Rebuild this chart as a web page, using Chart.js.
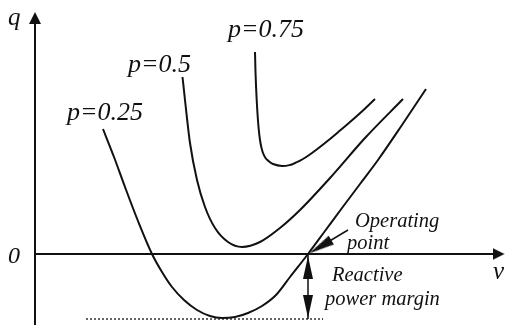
<!DOCTYPE html>
<html>
<head>
<meta charset="utf-8">
<title>q-v curves</title>
<script src="https://cdn.jsdelivr.net/npm/chart.js@4.4.1/dist/chart.umd.min.js"></script>
<style>
    html, body { margin: 0; padding: 0; background: #fff; }
    #wrap { width: 505px; height: 325px; position: relative; }
</style>
</head>
<body>
<div id="wrap"><canvas id="qvChart"></canvas></div>
<script>
// q-v curves, one per active power level (v on x, q on y)
const vP025 = [0.68, 0.79, 0.90, 1.03, 1.17, 1.27, 1.37, 1.49, 1.62, 1.75, 1.87, 2.00,
               2.13, 2.27, 2.41, 2.55, 2.73, 2.90, 3.07, 3.25, 3.43, 3.67, 3.91];
const qP025 = [1.25, 0.97, 0.67, 0.33, 0.00, -0.18, -0.33, -0.46, -0.56, -0.62, -0.64, -0.63,
               -0.59, -0.52, -0.41, -0.23, 0.00, 0.23, 0.46, 0.70, 0.94, 1.29, 1.65];

const vP050 = [1.475, 1.50, 1.55, 1.62, 1.70, 1.80, 1.93, 2.07, 2.25, 2.45, 2.65, 2.95, 3.30, 3.68];
const qP050 = [1.77, 1.54, 1.11, 0.74, 0.47, 0.26, 0.12, 0.07, 0.12, 0.26, 0.44, 0.76, 1.16, 1.55];

const vP075 = [2.200, 2.206, 2.217, 2.228, 2.238, 2.250, 2.263, 2.280, 2.305, 2.335, 2.38, 2.47,
               2.55, 2.60, 2.68, 2.77, 2.90, 3.05, 3.23, 3.40];
const qP075 = [2.02, 1.79, 1.54, 1.36, 1.24, 1.14, 1.07, 1.01, 0.96, 0.93, 0.90, 0.88,
               0.89, 0.91, 0.95, 1.01, 1.11, 1.235, 1.39, 1.55];

// axis extents
const vRange = [-0.35, 4.70];
const qRange = [-0.71, 2.54];
const qAxisTop = 2.42;

// operating point and the lowest q it can drop to
const opPoint = { v: 2.73, q: 0 };
const qMargin = -0.65;
const marginLineV = [0.51, 2.88];
const opArrowTail = { v: 3.13, q: 0.24 };

const textLabels = [
    { text: 'q', v: -0.27, q: 2.29, size: 25 },
    { text: '0', v: -0.27, q: -0.09, size: 24 },
    { text: 'v', v: 4.58, q: -0.25, size: 25 },
    { text: 'p=0.25', v: 0.32, q: 1.34, size: 26 },
    { text: 'p=0.5', v: 0.93, q: 1.82, size: 26 },
    { text: 'p=0.75', v: 1.93, q: 2.17, size: 26 },
    { text: 'Operating', v: 3.20, q: 0.27, size: 20.5 },
    { text: 'point', v: 3.12, q: 0.05, size: 20.5 },
    { text: 'Reactive', v: 2.97, q: -0.27, size: 20.5 },
    { text: 'power margin', v: 2.90, q: -0.51, size: 20.5 }
];

function zip(vs, qs) {
    return vs.map((v, i) => ({ x: v, y: qs[i] }));
}

// arrowhead image with its tip in the centre, pointing up
function makeArrowHead(width, length) {
    const c = document.createElement('canvas');
    c.width = width;
    c.height = length * 2;
    const g = c.getContext('2d');
    g.fillStyle = '#111';
    g.beginPath();
    g.moveTo(width / 2, length);
    g.lineTo(width, length * 2);
    g.lineTo(0, length * 2);
    g.closePath();
    g.fill();
    return c;
}

const axisHead = makeArrowHead(12, 12);
const marginHead = makeArrowHead(10, 23);
const opHead = makeArrowHead(10, 26);

const curveStyle = {
    borderColor: '#111',
    borderWidth: 2,
    pointRadius: 0,
    fill: false,
    cubicInterpolationMode: 'monotone'
};

// the p=0.75 curve falls almost vertically, so a plain spline bends it better
const steepCurveStyle = Object.assign({}, curveStyle, {
    cubicInterpolationMode: 'default',
    tension: 0.4
});

const straight = (data, extra) => Object.assign({
    data: data,
    borderColor: '#111',
    borderWidth: 2,
    pointRadius: 0,
    fill: false,
    tension: 0
}, extra || {});

// angle of the operating point pointer, measured in pixels
function opArrowAngle(ctx) {
    const { x, y } = ctx.chart.scales;
    const dx = x.getPixelForValue(opPoint.v) - x.getPixelForValue(opArrowTail.v);
    const dy = y.getPixelForValue(opPoint.q) - y.getPixelForValue(opArrowTail.q);
    return Math.atan2(dx, -dy) * 180 / Math.PI;
}

const labelPlugin = {
    id: 'curveLabels',
    afterDatasetsDraw(chart) {
        const { ctx, scales: { x, y } } = chart;
        ctx.save();
        ctx.fillStyle = '#111';
        ctx.textBaseline = 'alphabetic';
        textLabels.forEach(l => {
            ctx.font = `italic ${l.size}px "Liberation Serif", "Times New Roman", serif`;
            ctx.fillText(l.text, x.getPixelForValue(l.v), y.getPixelForValue(l.q));
        });
        ctx.restore();
    }
};

const chart = new Chart(document.getElementById('qvChart'), {
    type: 'line',
    data: {
        datasets: [
            Object.assign({ label: 'p=0.25', data: zip(vP025, qP025) }, curveStyle),
            Object.assign({ label: 'p=0.5', data: zip(vP050, qP050) }, curveStyle),
            Object.assign({ label: 'p=0.75', data: zip(vP075, qP075) }, steepCurveStyle),
            // axes
            straight([{ x: 0, y: qRange[0] }, { x: 0, y: qAxisTop - 0.05 }]),
            straight([{ x: 0, y: 0 }, { x: vRange[1] - 0.06, y: 0 }]),
            // reactive power margin
            straight([{ x: opPoint.v, y: opPoint.q }, { x: opPoint.v, y: qMargin }], { borderWidth: 1.5 }),
            straight([{ x: marginLineV[0], y: qMargin }, { x: marginLineV[1], y: qMargin }],
                { borderWidth: 1.3, borderDash: [2, 2] }),
            // operating point pointer
            straight([{ x: opArrowTail.v, y: opArrowTail.q }, { x: opPoint.v + 0.1, y: opPoint.q + 0.06 }],
                { borderWidth: 1.5 }),
            {
                label: 'heads',
                data: [
                    { x: 0, y: qAxisTop },
                    { x: vRange[1] - 0.005, y: 0 },
                    { x: opPoint.v, y: opPoint.q - 0.02 },
                    { x: opPoint.v, y: qMargin + 0.01 },
                    { x: opPoint.v + 0.01, y: opPoint.q + 0.005 }
                ],
                showLine: false,
                pointRadius: 5,
                pointStyle: [axisHead, axisHead, marginHead, marginHead, opHead],
                rotation: ctx => [0, 90, 0, 180, opArrowAngle(ctx)][ctx.dataIndex]
            }
        ]
    },
    options: {
        responsive: true,
        maintainAspectRatio: false,
        animation: false,
        events: [],
        layout: { padding: 0, autoPadding: false },
        scales: {
            x: { type: 'linear', min: vRange[0], max: vRange[1], display: false },
            y: { type: 'linear', min: qRange[0], max: qRange[1], display: false }
        },
        plugins: {
            legend: { display: false },
            tooltip: { enabled: false }
        }
    },
    plugins: [labelPlugin]
});
</script>
</body>
</html>
